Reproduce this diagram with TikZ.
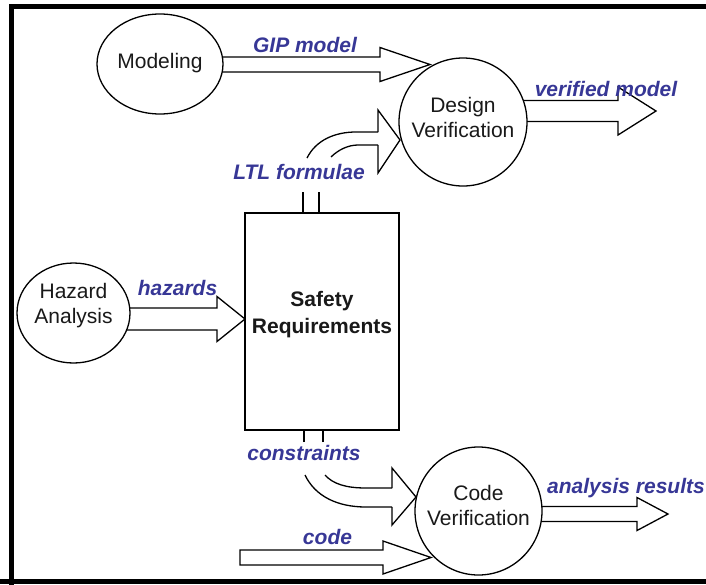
\documentclass[tikz,border=0pt]{standalone}
\usepackage{fontspec}
\setmainfont{Liberation Sans}
\usetikzlibrary{shapes.geometric,calc}
\pgfdeclarelayer{background}
\pgfsetlayers{background,main}
\definecolor{lblblue}{RGB}{55,55,150}
\definecolor{inktext}{RGB}{25,25,25}
% #1 extra options, #2 x start, #3 x head base, #4 x tip, #5 y centre, #6 shaft half width, #7 head half height
\newcommand\blkarrow[7][]{\path[blk,#1] ({#2},{#5-#6}) -- ({#3},{#5-#6}) -- ({#3},{#5-#7}) -- ({#4},{#5}) -- ({#3},{#5+#7}) -- ({#3},{#5+#6}) -- ({#2},{#5+#6});}
\begin{document}
\begin{tikzpicture}[x=1pt,y=-1pt,
  every node/.style={font=\fontsize{21}{25}\selectfont},
  proc/.style={ellipse,draw=black,line width=1.3pt,fill=white,inner sep=0pt},
  ptext/.style={text=inktext,align=center,inner sep=0pt,yshift=5pt},
  lbl/.style={text=lblblue,font=\fontsize{21}{25}\selectfont\bfseries\itshape,inner sep=0pt},
  blk/.style={draw=black,fill=white,line width=1.3pt,line join=miter},
  wire/.style={draw=black,line width=1.3pt}]
\clip (0,0) rectangle (706,584);
% frame
\draw[line width=5pt] (11.5,600) -- (11.5,6.5) -- (720,6.5);
\draw[line width=5pt] (0,581.5) -- (720,581.5);

% process nodes
\node[proc,minimum width=126pt,minimum height=100pt,
  label={[ptext,yshift=-4pt]center:Modeling}] (model) at (160,64) {};
\node[proc,minimum width=128pt,minimum height=128pt,
  label={[ptext]center:Design\\Verification}] (design) at (463,122) {};
\node[proc,minimum width=113pt,minimum height=100pt,
  label={[ptext,yshift=2pt]center:Hazard\\Analysis}] (hazard) at (73.5,313) {};
\node[proc,minimum width=127pt,minimum height=128pt,
  label={[ptext,yshift=1pt]center:Code\\Verification}] (codev) at (478.5,511) {};
\node[draw=black,line width=2.8pt,fill=white,minimum width=154pt,minimum height=217pt,inner sep=0pt,
  label={[ptext,yshift=2pt,font=\fontsize{21}{27}\selectfont\bfseries]center:Safety\\Requirements}] (safety) at (322,321.5) {};

% labels
\node[lbl] (lgip) at (305,45) {GIP model};
\node[lbl] (lver) at (606,89) {verified model};
\node[lbl] (lltl) at (299,172) {LTL formulae};
\node[lbl] (lhaz) at (177.5,288) {hazards};
\node[lbl] (lcon) at (304,453) {constraints};
\node[lbl] (lcode) at (327.5,537) {code};
\node[lbl,anchor=east] (lana) at (705,488) {analysis results};

\begin{pgfonlayer}{background}
% straight block arrows (drawn behind the process nodes)
\blkarrow{180}{380}{430}{64.5}{7.5}{17}
\blkarrow{500}{618}{656}{111}{10.5}{24}
\blkarrow{100}{217}{245}{319}{11}{22.5}
\blkarrow{510}{637}{668}{514}{7.5}{16.5}
\path[blk] (240,550) -- (383,550) -- (383,541) -- (431,557.5) -- (383,574) -- (383,565) -- (240,565) -- cycle;
\end{pgfonlayer}

% LTL formulae: stub from box top and curved arrow into design verification
\draw[wire] (303,192) -- (safety.north -| 303,0);
\draw[wire] (319,192) -- (safety.north -| 319,0);
\draw[wire] (307,158) .. controls (316,140) and (335,132) .. (356,132) -- (378,132);
\draw[wire] (331,157) .. controls (338,150) and (348,145) .. (358,145) -- (378,145);
\draw[wire,line join=miter] (378,132) -- (378,110) -- (400,140) -- (378,173) -- (378,145);

% constraints: stub from box bottom and curved arrow into code verification
\draw[wire] (304,442) -- (safety.south -| 304,0);
\draw[wire] (323,442) -- (safety.south -| 323,0);
\draw[wire] (305,475) .. controls (315,496) and (337,507) .. (366,507) -- (392,507);
\draw[wire] (325,475) .. controls (333,484) and (346,488) .. (366,488) -- (392,488);
\draw[wire,line join=miter] (392,488) -- (392,468) -- (416,497) -- (392,525) -- (392,507);
\end{tikzpicture}
\end{document}
